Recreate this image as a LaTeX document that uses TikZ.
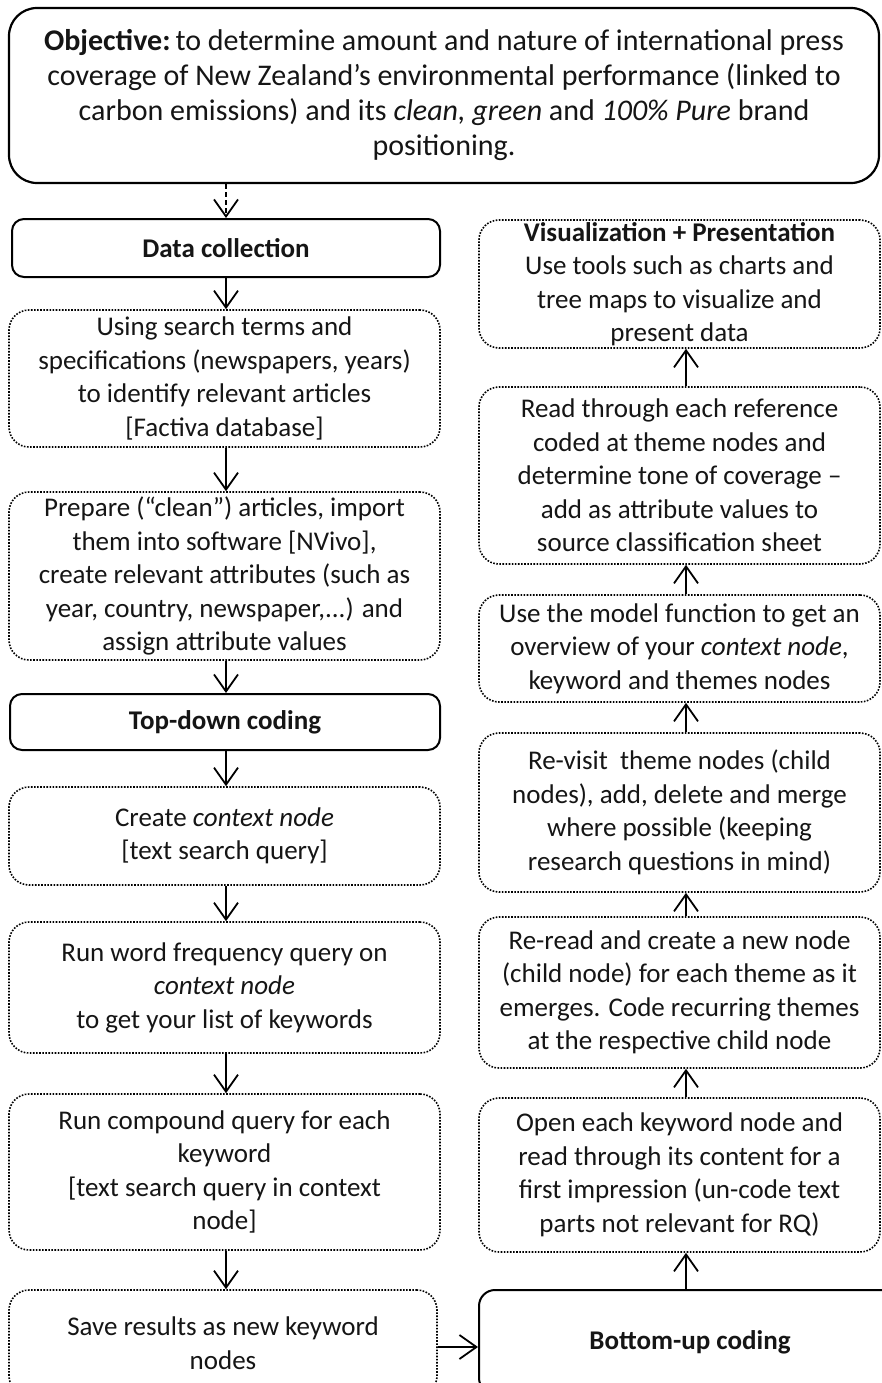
\documentclass[tikz,border=0pt]{standalone}
\usepackage{fontspec}
\setmainfont{Carlito}
\usetikzlibrary{arrows.meta}
\definecolor{txt}{HTML}{151515}
\begin{document}
\begin{tikzpicture}[x=1pt,y=-1pt,
  every node/.style={font=\fontsize{27}{33.5}\selectfont, text=txt, align=center, inner sep=0pt},
  solidbox/.style={draw=black, line width=2pt, rounded corners=12pt},
  dotbox/.style={draw=black, line width=1.6pt, dash pattern=on 1.6pt off 1.5pt, rounded corners=20pt},
  leftcol/.style={minimum width=431pt},
  rightcol/.style={minimum width=401pt},
  arr/.style={draw=black, line width=1.8pt, -{Straight Barb[length=17pt,width=24pt,line width=1.8pt]}},
]
\clip (0,0) rectangle (882,1383);
\fill[white] (0,0) rectangle (882,1383);

% top objective
\node[solidbox, line width=2.2pt, rounded corners=28pt, minimum width=870pt, minimum height=175pt,
      font=\fontsize{30}{35}\selectfont] (obj) at (444,95.5)
  {\textbf{Objective:}\,to determine amount and nature of international press\\
   coverage of New Zealand’s environmental performance (linked to\\
   carbon emissions) and its \textit{clean, green} and \textit{100\% Pure} brand\\
   positioning.};

% left column
\node[solidbox, minimum width=428pt, minimum height=58pt] (data) at (226,248) {\textbf{Data collection}};
\node[dotbox, leftcol, minimum height=137pt] (using) at (224.5,378.5)
  {Using search terms and\\ specifications (newspapers, years)\\ to identify relevant articles\\ {[Factiva database]}};
\node[dotbox, leftcol, minimum height=168pt] (prepare) at (224.5,576)
  {Prepare (“clean”) articles, import\\ them into software [NVivo],\\ create relevant attributes (such as\\ year, country, newspaper,...) and\\ assign attribute values};
\node[solidbox, minimum width=430pt, minimum height=56pt] (topdown) at (225,722) {\textbf{Top-down coding}};
\node[dotbox, leftcol, minimum height=98pt] (create) at (224.5,836)
  {Create \textit{context node}\\ {[text search query]}};
\node[dotbox, leftcol, minimum height=131pt] (runword) at (224.5,987.5)
  {Run word frequency query on\\ \textit{context node}\\ to get your list of keywords};
\node[dotbox, leftcol, minimum height=156pt] (compound) at (224.5,1172)
  {Run compound query for each\\ keyword\\ {[text search query in context}\\ node]};
\node[dotbox, minimum width=428pt, minimum height=106pt] (save) at (223,1343)
  {Save results as new keyword\\ nodes};

% right column
\node[dotbox, rightcol, minimum height=128pt] (vis) at (679.5,284)
  {\textbf{Visualization + Presentation}\\ Use tools such as charts and\\ tree maps to visualize and\\ present data};
\node[dotbox, rightcol, minimum height=177pt] (read) at (679.5,475.5)
  {Read through each reference\\ coded at theme nodes and\\ determine tone of coverage –\\ add as attribute values to\\ source classification sheet};
\node[dotbox, rightcol, minimum height=107pt] (model) at (679.5,648.5)
  {Use the model function to get an\\ overview of your \textit{context node},\\ keyword and themes nodes};
\node[dotbox, rightcol, minimum height=159pt] (revisit) at (679.5,812.5)
  {Re-visit\ \ theme nodes (child\\ nodes), add, delete and merge\\ where possible (keeping\\ research questions in mind)};
\node[dotbox, rightcol, minimum height=151pt] (reread) at (679.5,992.5)
  {Re-read and create a new node\\ (child node) for each theme as it\\ emerges. Code recurring themes\\ at the respective child node};
\node[dotbox, rightcol, minimum height=154pt] (open) at (679.5,1175)
  {Open each keyword node and\\ read through its content for a\\ first impression (un-code text\\ parts not relevant for RQ)};
\node[solidbox, rounded corners=16pt, minimum width=422pt, minimum height=104pt] (bottomup) at (690,1342)
  {\textbf{Bottom-up coding}};

\coordinate (rc) at (686,0);

% left arrows
\draw[arr, dash pattern=on 5pt off 3pt] (obj.south -| data.north) -- (data.north);
\draw[arr] (data.south) -- (using.north -| data.south);
\draw[arr] (using.south -| data.south) -- (prepare.north -| data.south);
\draw[arr] (prepare.south -| data.south) -- (topdown.north -| data.south);
\draw[arr] (topdown.south -| data.south) -- (create.north -| data.south);
\draw[arr] (create.south -| data.south) -- (runword.north -| data.south);
\draw[arr] (runword.south -| data.south) -- (compound.north -| data.south);
\draw[arr] (compound.south -| data.south) -- (save.north -| data.south);

% across
\draw[arr] ([yshift=-4pt]save.east) -- ([yshift=-4pt]save.east -| bottomup.west);

% right arrows
\draw[arr] (bottomup.north -| rc) -- (open.south -| rc);
\draw[arr] (open.north -| rc) -- (reread.south -| rc);
\draw[arr] (reread.north -| rc) -- (revisit.south -| rc);
\draw[arr] (revisit.north -| rc) -- (model.south -| rc);
\draw[arr] (model.north -| rc) -- (read.south -| rc);
\draw[arr] (read.north -| rc) -- (vis.south -| rc);
\end{tikzpicture}
\end{document}
